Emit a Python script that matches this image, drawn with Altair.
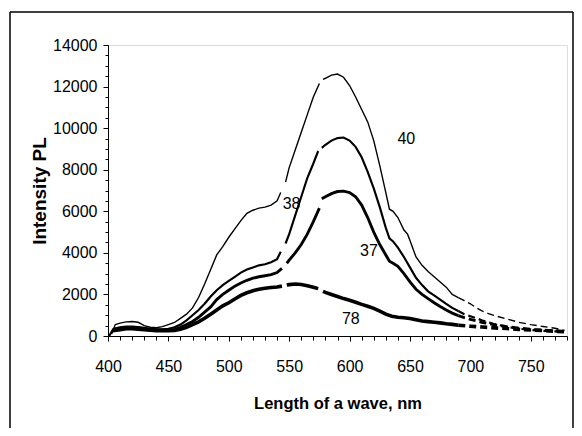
import altair as alt
import pandas as pd

# ---- data ----
nm_40 = [403, 406, 410, 415, 420, 425, 430, 435, 440, 445, 450, 455, 460, 465, 470, 475, 480, 485, 490, 495,
         500, 505, 510, 515, 520, 525, 530, 535, 540, 543,
         547, 550, 555, 560, 565, 570, 575,
         578, 580, 585, 590, 595, 600, 605, 610, 615, 620, 625, 630, 633, 636, 640, 645, 648, 650, 655, 660,
         665, 670, 675, 680, 685, 690,
         695, 700, 705, 710, 715, 720, 730, 740, 750, 760, 770, 778]
int_40 = [100, 550, 620, 680, 700, 660, 500, 420, 400, 450, 550, 650, 850, 1050, 1350, 1850, 2500, 3200, 3900, 4300,
          4750, 5150, 5550, 5900, 6050, 6150, 6200, 6300, 6500, 6900,
          7400, 8100, 8950, 9800, 10650, 11500, 12150,
          12350, 12400, 12550, 12600, 12450, 12050, 11500, 10900, 10300, 9400, 8200, 6900, 6100, 6000, 5700, 5100, 4900, 4600, 3800, 3400,
          3100, 2850, 2600, 2350, 2000, 1850,
          1700, 1550, 1350, 1200, 1080, 980, 820, 660, 550, 460, 370, 270]

nm_38 = [401, 404, 405, 410, 415, 420, 425, 430, 435, 440, 445, 450, 455, 460, 465, 470, 475, 480, 485, 490, 495,
         500, 505, 510, 515, 520, 525, 530, 535, 540, 543,
         547, 550, 555, 560, 565, 570, 574,
         577, 580, 585, 590, 595, 600, 605, 610, 615, 620, 625, 630, 633, 636, 640, 645, 650, 655, 660, 665,
         670, 675, 680, 685, 690,
         695, 700, 710, 720, 730, 740, 750, 760, 770, 778]
int_38 = [0, 300, 350, 420, 450, 450, 430, 400, 350, 320, 320, 350, 420, 550, 750, 1000, 1250, 1550, 1900, 2200, 2450,
          2650, 2850, 3050, 3200, 3300, 3400, 3450, 3550, 3700, 4050,
          4450, 4900, 5800, 6700, 7600, 8300, 8900,
          9050, 9200, 9400, 9520, 9550, 9400, 9100, 8600, 7900, 7100, 6200, 5200, 4700, 4550, 4250, 3800, 3300, 2800, 2450, 2150,
          1950, 1750, 1550, 1350, 1200,
          1050, 950, 750, 570, 450, 350, 290, 250, 220, 190]

nm_37 = [404, 410, 415, 420, 425, 430, 435, 440, 445, 450, 455, 460, 465, 470, 475, 480, 485, 490, 495,
         500, 505, 510, 515, 520, 525, 530, 535, 540, 544,
         548, 550, 555, 560, 565, 570, 575,
         577, 580, 585, 590, 595, 600, 605, 610, 615, 620, 625, 630, 633, 636, 640, 645, 650, 655, 660, 665,
         670, 675, 680, 685, 690,
         695, 700, 710, 720, 730, 740, 750, 760, 770, 778]
int_37 = [300, 380, 400, 400, 380, 350, 320, 300, 290, 290, 320, 420, 550, 700, 900, 1150, 1400, 1750, 2000,
          2200, 2400, 2550, 2680, 2780, 2850, 2900, 2950, 3050, 3250,
          3500, 3650, 4000, 4400, 4900, 5500, 6150,
          6600, 6700, 6850, 6950, 6970, 6900, 6700, 6300, 5700, 5000, 4400, 3900, 3600, 3500, 3350, 3000, 2600, 2250, 2000, 1800,
          1600, 1420, 1250, 1100, 980,
          880, 800, 650, 540, 450, 380, 320, 280, 250, 220]

nm_78 = [404, 410, 415, 420, 425, 430, 435, 440, 445, 450, 455, 460, 465, 470, 475, 480, 485, 490, 495,
         500, 505, 510, 515, 520, 525, 530, 535, 540, 544,
         548, 550, 555, 560, 565, 570, 574,
         578, 580, 585, 590, 595, 600, 605, 610, 615, 620, 625, 630, 635, 640, 645, 650, 655, 660, 665,
         670, 675, 680, 685, 690,
         700, 710, 720, 730, 740, 750, 760, 770, 778]
int_78 = [250, 300, 350, 350, 330, 300, 280, 260, 250, 260, 270, 320, 420, 550, 680, 850, 1050, 1250, 1450,
          1600, 1780, 1950, 2080, 2180, 2250, 2300, 2330, 2360, 2400,
          2450, 2470, 2500, 2480, 2420, 2350, 2280,
          2150, 2100, 2000, 1900, 1800, 1720, 1620, 1520, 1430, 1330, 1200, 1050, 950, 900, 880, 840, 780, 720, 690,
          660, 630, 590, 560, 520,
          470, 430, 390, 360, 320, 290, 260, 230, 200]

series_names = ["40", "38", "37", "78"]
series_widths = [1.4, 3.6, 3.4, 3.6]

label_text = ["40", "38", "37", "78"]
label_nm = [647, 552, 616, 601]
label_val = [9500, 6350, 4100, 800]

gap_bounds = [544.5, 576]   # seams between measured spectral pieces
tail_start = 690             # sparse, dotted tail

rows = []
for name, xs, ys in [("40", nm_40, int_40), ("38", nm_38, int_38), ("37", nm_37, int_37), ("78", nm_78, int_78)]:
    for x, y in zip(xs, ys):
        seg = sum(1 for b in gap_bounds if x > b)
        if x <= tail_start:
            rows.append({"nm": x, "val": y, "series": name, "key": f"{name}-{seg}", "tail": 0})
        if x >= tail_start:
            rows.append({"nm": x, "val": y, "series": name, "key": f"{name}-t", "tail": 1})
df = pd.DataFrame(rows)
labels_df = pd.DataFrame({"t": label_text, "nm": label_nm, "val": label_val})

FONT = "Liberation Sans"

xscale = alt.Scale(domain=[400, 780], nice=False, zero=False)
yscale = alt.Scale(domain=[0, 14000], nice=False)
wscale = alt.Scale(domain=series_names, range=series_widths)

x_main = alt.Axis(values=list(range(400, 751, 50)), tickSize=5, labelPadding=17, grid=False, labelFlush=False,
                  labelOverlap=False,
                  domainColor="black", tickColor="black", labelFont=FONT, labelFontSize=16,
                  labelColor="black", title="Length of a wave, nm", titleFont=FONT, titleFontSize=16.5,
                  titleFontWeight="bold", titleColor="black", titleX=229.5, titleY=72,
                  titleBaseline="alphabetic", titleAlign="center", orient="bottom")
y_main = alt.Axis(values=list(range(0, 14001, 2000)), format="d", tickSize=5, labelPadding=6, grid=False,
                  labelFlush=False, labelOverlap=False,
                  domainColor="black", tickColor="black", labelFont=FONT, labelFontSize=16,
                  labelColor="black", title="Intensity PL", titleFont=FONT, titleFontSize=19,
                  titleFontWeight="bold", titleColor="black", titleAngle=270, titleX=-63, titleY=145.5,
                  titleBaseline="alphabetic", titleAlign="center", orient="left")
x_minor = alt.Axis(values=list(range(400, 781, 10)), tickSize=4, labels=False, domain=False, grid=False,
                   tickColor="black", title=None, orient="bottom")
y_minor = alt.Axis(values=list(range(0, 14001, 500)), tickSize=3, labels=False, domain=False, grid=False,
                   tickColor="black", title=None, orient="left")

solid = alt.Chart(df).transform_filter("datum.tail == 0").mark_line(color="black").encode(
    x=alt.X("nm:Q", scale=xscale, axis=x_main),
    y=alt.Y("val:Q", scale=yscale, axis=y_main),
    detail="key:N",
    order="nm:Q",
    strokeWidth=alt.StrokeWidth("series:N", scale=wscale, legend=None),
)
dashed = alt.Chart(df).transform_filter("datum.tail == 1").mark_line(color="black", strokeDash=[7, 4]).encode(
    x=alt.X("nm:Q", scale=xscale, axis=None),
    y=alt.Y("val:Q", scale=yscale, axis=None),
    detail="key:N",
    order="nm:Q",
    strokeWidth=alt.StrokeWidth("series:N", scale=wscale, legend=None),
)
minor = alt.Chart(df).mark_point(opacity=0).encode(
    x=alt.X("nm:Q", scale=xscale, axis=x_minor),
    y=alt.Y("val:Q", scale=yscale, axis=y_minor),
)
text = alt.Chart(labels_df).mark_text(font=FONT, fontSize=16, color="black").encode(
    x=alt.X("nm:Q", scale=xscale, axis=None),
    y=alt.Y("val:Q", scale=yscale, axis=None),
    text="t:N",
)

frame_df = pd.DataFrame({"d": [0]})
frame_left = alt.Chart(frame_df).mark_rule(color="black", strokeWidth=1.5).encode(
    x=alt.value(-98), y=alt.value(-33), y2=alt.value(383))
frame_top = alt.Chart(frame_df).mark_rule(color="black", strokeWidth=1.5).encode(
    x=alt.value(-98), x2=alt.value(465), y=alt.value(-33))
frame_right = alt.Chart(frame_df).mark_rule(color="black", strokeWidth=1.5).encode(
    x=alt.value(465), y=alt.value(-33), y2=alt.value(383))

chart = alt.layer(minor, solid, dashed, text, frame_left, frame_top, frame_right).resolve_axis(
    x="independent", y="independent"
).properties(
    width=459, height=291,
    padding={"left": 100, "top": 37, "right": 7, "bottom": 92},
    autosize=alt.AutoSizeParams(type="none"),
).configure_view(stroke="#808080", strokeWidth=1).configure(background="white")

chart.save("out.html", embed_options={"renderer": "svg", "actions": False})
